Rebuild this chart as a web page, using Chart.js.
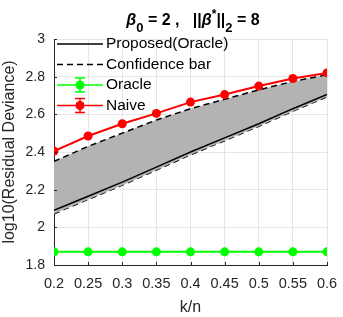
<!DOCTYPE html>
<html>
<head>
<meta charset="utf-8">
<script src="https://cdn.jsdelivr.net/npm/chart.js@4"></script>
<style>
  html, body { margin: 0; padding: 0; background: #fff; }
  #wrap { width: 343px; height: 317px; }
</style>
</head>
<body>
<div id="wrap"><canvas id="chart" width="343" height="317"></canvas></div>
<script>
// data
const kn = [0.2, 0.25, 0.3, 0.35, 0.4, 0.45, 0.5, 0.55, 0.6];
const proposed = [2.09, 2.165, 2.24, 2.32, 2.40, 2.475, 2.55, 2.63, 2.705];
const confUpper = [2.35, 2.43, 2.50, 2.57, 2.63, 2.68, 2.73, 2.775, 2.81];
const confLower = [2.072, 2.148, 2.224, 2.304, 2.385, 2.46, 2.537, 2.617, 2.693];
const oracle = [1.87, 1.87, 1.87, 1.87, 1.87, 1.87, 1.87, 1.87, 1.87];
const naive = [2.405, 2.485, 2.55, 2.605, 2.665, 2.705, 2.75, 2.79, 2.82];
const xTicks = [0.2, 0.25, 0.3, 0.35, 0.4, 0.45, 0.5, 0.55, 0.6];
const yTicks = [1.8, 2, 2.2, 2.4, 2.6, 2.8, 3];
const legendLabels = ['Proposed(Oracle)', 'Confidence bar', 'Oracle', 'Naive'];

const FONT = '"Liberation Sans", Arial, Helvetica, sans-serif';
const pts = arr => arr.map((v, i) => ({ x: kn[i], y: v }));

// title, legend and inward ticks
const extras = {
    id: 'extras',
    afterDraw(chart) {
        const ctx = chart.ctx;
        const area = chart.chartArea;
        const xs = chart.scales.x, ys = chart.scales.y;
        ctx.save();

        // inward ticks
        ctx.strokeStyle = '#262626';
        ctx.lineWidth = 1;
        ctx.beginPath();
        xTicks.forEach(t => {
            const px = Math.round(xs.getPixelForValue(t)) + 0.5;
            ctx.moveTo(px, area.bottom);
            ctx.lineTo(px, area.bottom - 3);
        });
        yTicks.forEach(t => {
            const py = Math.round(ys.getPixelForValue(t)) + 0.5;
            ctx.moveTo(area.left, py);
            ctx.lineTo(area.left + 3, py);
        });
        ctx.stroke();

        // title: β0 = 2 ,  ||β*||2 = 8
        const parts = [
            { t: 'β', f: 'italic bold 16px ' + FONT, dy: 0 },
            { t: '0', f: 'bold 13px ' + FONT, dy: 7 },
            { t: ' = 2 ,   ||', f: 'bold 16px ' + FONT, dy: 0 },
            { t: 'β', f: 'italic bold 16px ' + FONT, dy: 0 },
            { t: '*', f: 'bold 12px ' + FONT, dy: -7 },
            { t: '||', f: 'bold 16px ' + FONT, dy: 0 },
            { t: '2', f: 'bold 13px ' + FONT, dy: 7 },
            { t: ' = 8', f: 'bold 16px ' + FONT, dy: 0 }
        ];
        let total = 0;
        parts.forEach(p => { ctx.font = p.f; p.w = ctx.measureText(p.t).width; total += p.w; });
        let tx = 193 - total / 2;
        const baseY = 25;
        ctx.fillStyle = '#000';
        ctx.textBaseline = 'alphabetic';
        ctx.textAlign = 'left';
        parts.forEach(p => {
            ctx.font = p.f;
            ctx.fillText(p.t, tx, baseY + p.dy);
            tx += p.w;
        });

        // legend
        const lx0 = 57, lx1 = 103, ltx = 106;
        const rows = [44, 64.5, 85, 105.5];
        ctx.font = '15.5px ' + FONT;
        ctx.textBaseline = 'middle';
        rows.forEach((ry, i) => {
            ctx.fillStyle = '#000';
            ctx.fillText(legendLabels[i], ltx, ry);
        });
        // proposed
        ctx.lineWidth = 1.5;
        ctx.strokeStyle = '#000';
        ctx.setLineDash([]);
        ctx.beginPath(); ctx.moveTo(lx0, rows[0]); ctx.lineTo(lx1, rows[0]); ctx.stroke();
        // confidence
        ctx.setLineDash([6, 4]);
        ctx.beginPath(); ctx.moveTo(lx0, rows[1]); ctx.lineTo(lx1, rows[1]); ctx.stroke();
        ctx.setLineDash([]);
        // oracle, naive with error bar marker
        [[rows[2], '#00ff00'], [rows[3], '#ff0000']].forEach(([ry, c]) => {
            const mx = (lx0 + lx1) / 2;
            ctx.strokeStyle = c;
            ctx.fillStyle = c;
            ctx.lineWidth = 1.5;
            ctx.beginPath();
            ctx.moveTo(lx0, ry); ctx.lineTo(lx1, ry);
            ctx.moveTo(mx, ry - 7); ctx.lineTo(mx, ry + 7);
            ctx.moveTo(mx - 5, ry - 7); ctx.lineTo(mx + 5, ry - 7);
            ctx.moveTo(mx - 5, ry + 7); ctx.lineTo(mx + 5, ry + 7);
            ctx.stroke();
            ctx.beginPath(); ctx.arc(mx, ry, 4.5, 0, Math.PI * 2); ctx.fill();
        });
        ctx.restore();
    }
};

new Chart(document.getElementById('chart'), {
    type: 'line',
    data: {
        datasets: [
            {
                label: 'Confidence upper',
                data: pts(confUpper),
                borderColor: '#000',
                borderWidth: 1.5,
                borderDash: [6, 4],
                pointRadius: 0,
                backgroundColor: '#b3b3b3',
                fill: '+1',
                order: 3
            },
            {
                label: 'Confidence lower',
                data: pts(confLower),
                borderColor: '#000',
                borderWidth: 1.5,
                borderDash: [6, 4],
                pointRadius: 0,
                fill: false,
                order: 3
            },
            {
                label: 'Proposed(Oracle)',
                data: pts(proposed),
                borderColor: '#000',
                borderWidth: 1.5,
                pointRadius: 0,
                fill: false,
                order: 2
            },
            {
                label: 'Oracle',
                data: pts(oracle),
                borderColor: '#00ff00',
                backgroundColor: '#00ff00',
                borderWidth: 2,
                pointRadius: 4.5,
                pointBorderWidth: 0,
                fill: false,
                order: 1
            },
            {
                label: 'Naive',
                data: pts(naive),
                borderColor: '#ff0000',
                backgroundColor: '#ff0000',
                borderWidth: 2,
                pointRadius: 4.5,
                pointBorderWidth: 0,
                fill: false,
                order: 0
            }
        ]
    },
    options: {
        responsive: false,
        animation: false,
        layout: { padding: { top: 39, right: 16, bottom: 0, left: 0 } },
        plugins: {
            legend: { display: false },
            tooltip: { enabled: false }
        },
        scales: {
            x: {
                type: 'linear',
                min: 0.2,
                max: 0.6,
                afterBuildTicks: s => { s.ticks = xTicks.map(v => ({ value: v })); },
                afterFit: s => { s.height = 52; s.paddingLeft = 0; s.paddingRight = 0; },
                grid: { color: '#e6e6e6', drawTicks: false },
                border: { color: '#262626', width: 1 },
                ticks: {
                    padding: 10,
                    autoSkip: false,
                    maxRotation: 0,
                    minRotation: 0,
                    color: '#262626',
                    font: { family: FONT, size: 14.5 },
                    callback: v => String(parseFloat(v.toFixed(2)))
                },
                title: {
                    display: true,
                    text: 'k/n',
                    color: '#262626',
                    font: { family: FONT, size: 16 },
                    padding: { top: 0, bottom: 0 }
                }
            },
            y: {
                min: 1.8,
                max: 3,
                afterBuildTicks: s => { s.ticks = yTicks.map(v => ({ value: v })); },
                afterFit: s => { s.width = 54; s.paddingTop = 0; s.paddingBottom = 0; },
                grid: { color: '#e6e6e6', drawTicks: false },
                border: { color: '#262626', width: 1 },
                ticks: {
                    padding: 9,
                    color: '#262626',
                    font: { family: FONT, size: 14 },
                    callback: v => String(parseFloat(v.toFixed(1)))
                },
                title: {
                    display: true,
                    text: 'log10(Residual Deviance)',
                    color: '#262626',
                    font: { family: FONT, size: 16 },
                    padding: { top: 0, bottom: 0 }
                }
            }
        }
    },
    plugins: [extras]
});
</script>
</body>
</html>
